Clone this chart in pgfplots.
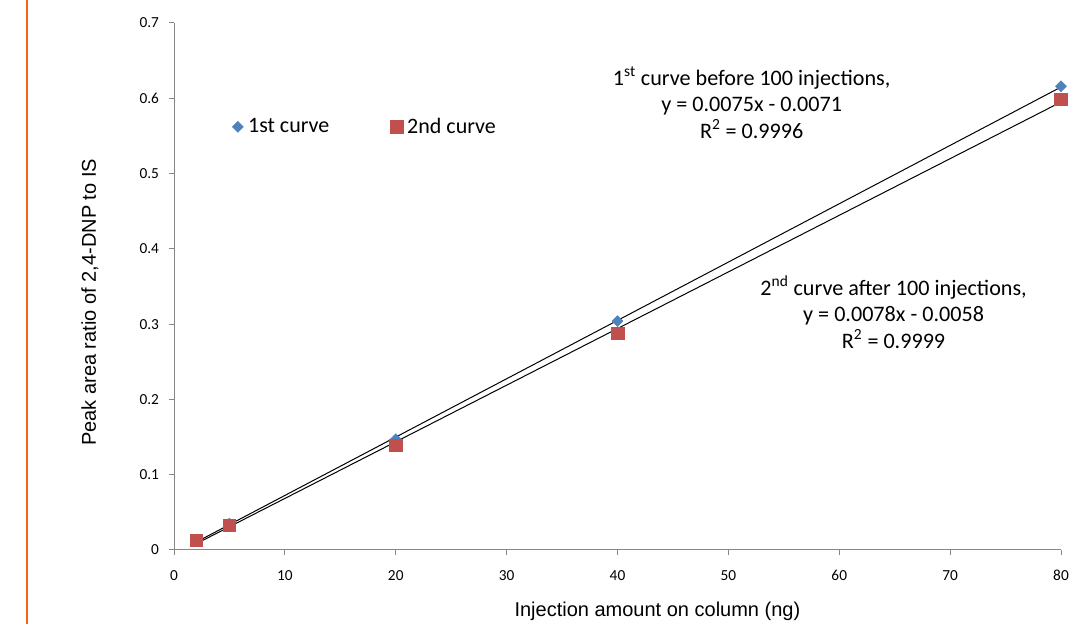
\documentclass[border=0pt]{standalone}
\usepackage{pgfplots}
\usepackage{pgfplotstable}
\pgfplotsset{compat=1.18}
\usepackage{fontspec}
\setmainfont{Carlito}
\newfontfamily\arialfont{Liberation Sans}
\definecolor{s1}{HTML}{4F81BD}
\definecolor{s2}{HTML}{C0504D}
\definecolor{axgray}{HTML}{868686}
\definecolor{orangeline}{RGB}{240,100,20}

\pgfplotstableread{
x y
2 0.012
5 0.035
20 0.147
40 0.304
80 0.616
}\first
\pgfplotstableread{
x y
2 0.013
5 0.033
20 0.139
40 0.288
80 0.599
}\second

\begin{document}
\begin{tikzpicture}[x=1pt,y=1pt]
\useasboundingbox (0,0) rectangle (805.5,468);
\draw[orangeline, line width=1.5pt] (20.25,0) -- (20.25,468);
\begin{axis}[
  at={(130.5pt,55.5pt)}, anchor=origin,
  scale only axis, width=665.25pt, height=395.25pt,
  xmin=0, xmax=80, ymin=0, ymax=0.7,
  axis x line*=bottom, axis y line*=left,
  axis line style={axgray, line width=0.75pt, -},
  xtick={0,10,...,80}, ytick={0,0.1,...,0.7},
  tick align=outside, major tick length=3.75pt,
  tick style={axgray, line width=0.75pt},
  /pgf/number format/assume math mode=true,
  yticklabel style={/pgf/number format/fixed, /pgf/number format/precision=1, font=\fontsize{11.5}{13}\selectfont, xshift=-4pt},
  xticklabel style={font=\fontsize{11.5}{13}\selectfont, yshift=-8pt},
  xlabel={Injection amount on column (ng)},
  ylabel={Peak area ratio of 2,4-DNP to IS},
  label style={font=\arialfont\fontsize{15}{17}\selectfont},
  x label style={at={(axis description cs:0.545,-0.116)}, anchor=center},
  y label style={at={(axis description cs:-0.0947,0.47)}, anchor=center},
  legend style={at={(rel axis cs:0.061,0.803)}, anchor=west, draw=none, fill=none,
    font=\fontsize{16.5}{19}\selectfont, legend columns=2,
    /tikz/every even column/.append style={column sep=44pt}},
  legend image code/.code={\path (0pt,0pt) (9pt,0pt); \draw[#1] plot coordinates {(3.5pt,0pt)};},
  legend cell align=left,
  clip=false,
]
\addplot[only marks, mark=square*, mark size=2.9pt, color=s1, mark options={fill=s1, rotate=45}] table[x=x,y=y] {\first};
\addlegendentry{1st curve}
\addplot[only marks, mark=square*, mark size=4.7pt, color=s2, mark options={fill=s2}] table[x=x,y=y] {\second};
\addlegendentry{2nd curve}
\addplot[black, line width=0.75pt, no marks, forget plot] table[x=x, y={create col/linear regression={y=y}}] {\first};
\addplot[black, line width=0.75pt, no marks, forget plot] table[x=x, y={create col/linear regression={y=y}}] {\second};
\node[align=center, font=\fontsize{16.6}{19.9}\selectfont] at (axis cs:52.1,0.594)
  {1\textsuperscript{st} curve before 100 injections,\\ y = 0.0075x - 0.0071\\ R\textsuperscript{2} = 0.9996};
\node[align=center, font=\fontsize{16.6}{19.9}\selectfont] at (axis cs:64.9,0.316)
  {2\textsuperscript{nd} curve after 100 injections,\\ y = 0.0078x - 0.0058\\ R\textsuperscript{2} = 0.9999};
\end{axis}
\end{tikzpicture}
\end{document}
